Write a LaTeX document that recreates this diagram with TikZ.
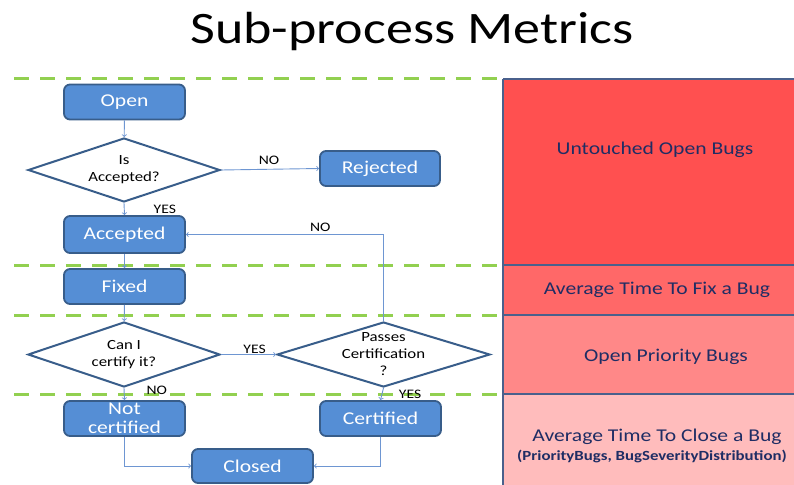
\documentclass[tikz,border=0pt]{standalone}
\usepackage{fontspec}
\setmainfont{Carlito}[FakeStretch=1.2]
\usepackage{xcolor}
\usepackage{tikz}
\usetikzlibrary{shapes.geometric, arrows, positioning, calc}
\definecolor{boxblue}{RGB}{85, 142, 213}
\definecolor{boxedge}{RGB}{56, 93, 138}
\definecolor{linkblue}{RGB}{110, 150, 210}
\definecolor{lanegreen}{RGB}{146, 208, 80}
\definecolor{metricedge}{RGB}{74, 96, 140}
\definecolor{metrictext}{RGB}{31, 45, 100}
\definecolor{redA}{RGB}{255, 80, 80}
\definecolor{redB}{RGB}{255, 104, 104}
\definecolor{redC}{RGB}{255, 136, 136}
\definecolor{redD}{RGB}{255, 188, 188}

\begin{document}
\begin{tikzpicture}[x=1pt, y=-1pt,
    state/.style={draw=boxedge, line width=1.8pt, fill=boxblue, rounded corners=6pt,
        minimum width=121pt, minimum height=35pt, inner sep=0pt, text=white, align=center,
        font=\fontsize{18}{19}\selectfont},
    choice/.style={diamond, draw=boxedge, line width=2pt, fill=white, inner sep=0pt,
        minimum width=192pt, minimum height=64pt},
    choice text/.style={align=center, inner sep=0pt, font=\fontsize{14}{17}\selectfont},
    link/.style={->, linkblue, line width=0.9pt},
    answer/.style={font=\fontsize{13}{14}\selectfont, text=black, inner sep=0pt},
    lane/.style={lanegreen, line width=3pt, dash pattern=on 15pt off 11pt},
    metric/.style={text=metrictext, align=center, font=\fontsize{18}{20}\selectfont}]
    \useasboundingbox (0,0) rectangle (794,484);

    % Title
    \node[font=\fontsize{45}{50}\selectfont] (title) at (412,32) {Sub-process Metrics};

    % Swim lanes
    \foreach \y in {79, 265, 315, 394}
        \draw[lane] (14,\y) -- (500,\y);

    % Metric bands
    \fill[redA] (503,79) rectangle (796,265);
    \fill[redB] (503,265) rectangle (796,315);
    \fill[redC] (503,315) rectangle (796,394);
    \fill[redD] (503,394) rectangle (796,486);
    \foreach \y in {79, 265, 315, 394}
        \draw[metricedge, line width=1.5pt] (503,\y) -- (796,\y);
    \draw[metricedge, line width=2.5pt] (503,79) -- (503,486);

    \node[metric] (untouched) at (655,150) {Untouched Open Bugs};
    \node[metric] (fixtime) at (657,290) {Average Time To Fix a Bug};
    \node[metric] (priority) at (666,357) {Open Priority Bugs};
    \node[metric] (closetime) at (657,437) {Average Time To Close a Bug};
    \node[text=metrictext, font=\fontsize{14}{15}\selectfont\bfseries] (closeargs)
        at (652,456) {(PriorityBugs, BugSeverityDistribution)};

    % Flow chart
    \node[state] (open) at (124.5,102) {Open};
    \node[choice, label={[choice text]center:{Is\\Accepted?}}] (isacc) at (124,170) {};
    \node[state, minimum width=120pt] (rejected) at (380,168.5) {Rejected};
    \node[state, minimum height=37pt] (accepted) at (124.5,234.5) {Accepted};
    \node[state] (fixed) at (124.5,286.5) {Fixed};
    \node[choice, minimum height=65pt, label={[choice text]center:{Can I\\certify it?}}]
        (cancert) at (124,354.5) {};
    \node[choice, minimum width=213pt, minimum height=65pt,
        label={[choice text]center:{Passes\\Certification\\?}}] (passes) at (383.5,354.5) {};
    \node[state] (notcert) at (124.5,418.5) {Not\\certified};
    \node[state] (certified) at (380.5,418.5) {Certified};
    \node[state, minimum height=34pt] (closed) at (252.5,466) {Closed};

    % Connectors
    \draw[link] (open) -- (isacc);
    \draw[link] (isacc.east) -- (rejected.west) node[answer, pos=0.49, above=4pt] {NO};
    \draw[link] (isacc.south) -- (accepted.north) node[answer, pos=0.5, right=29pt] {YES};
    \draw[link] (accepted) -- (fixed);
    \draw[link] (fixed) -- (cancert);
    \draw[link] (cancert.east) -- (passes.west) node[answer, pos=0.61, above=0pt] {YES};
    \draw[link] (cancert.south) -- (notcert.north) node[answer, pos=0.21, right=22pt] {NO};
    \draw[link] (passes.north) |- (accepted.east) node[answer, pos=0.66, above=2pt] {NO};
    \draw[link] (passes.south) -- (certified.north) node[answer, pos=0.5, right=16.5pt] {YES};
    \draw[link] (notcert.south) |- (closed.west);
    \draw[link] (certified.south) |- (closed.east);
\end{tikzpicture}
\end{document}
